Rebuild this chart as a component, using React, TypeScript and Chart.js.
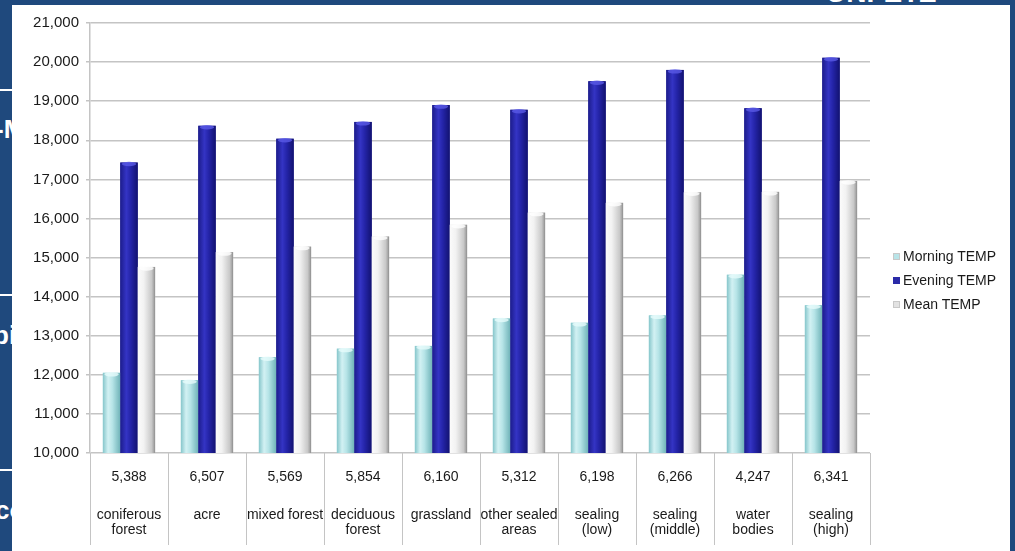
import React, { useEffect, useRef } from "react";
import { Chart, registerables } from "chart.js";

Chart.register(...registerables);

// ---------- data ----------
const categoryNames: string[][] = [
  ["coniferous", "forest"],
  ["acre"],
  ["mixed forest"],
  ["deciduous", "forest"],
  ["grassland"],
  ["other sealed", "areas"],
  ["sealing", "(low)"],
  ["sealing", "(middle)"],
  ["water", "bodies"],
  ["sealing", "(high)"],
];
const sampleCounts = [5388, 6507, 5569, 5854, 6160, 5312, 6198, 6266, 4247, 6341];
const morningTemp = [12050, 11860, 12450, 12670, 12740, 13440, 13330, 13520, 14560, 13780];
const eveningTemp = [17430, 18370, 18040, 18470, 18900, 18780, 19510, 19800, 18820, 20110];
const meanTemp = [14760, 15140, 15280, 15540, 15840, 16150, 16400, 16670, 16680, 16960];
const seriesNames = ["Morning TEMP", "Evening TEMP", "Mean TEMP"];
const yMin = 10000;
const yMax = 21000;
const yStep = 1000;

// ---------- styles ----------
const FONT = "'Liberation Sans', Arial, sans-serif";
const TEXT = "#1a1a1a";
const GRID = "#c4c4c4";
const baseColors = ["#9fd8dc", "#22229a", "#e6e6e6"];
const shadeStops: [number, string][][] = [
  [
    [0, "#86c6cb"],
    [0.3, "#d2f1f3"],
    [0.55, "#b6e4e7"],
    [1, "#6fb3b8"],
  ],
  [
    [0, "#1c1c8c"],
    [0.35, "#3434c4"],
    [0.6, "#2424a8"],
    [1, "#121270"],
  ],
  [
    [0, "#fbfbfb"],
    [0.35, "#f2f2f2"],
    [0.8, "#c8c8c8"],
    [0.92, "#a8a8a8"],
    [1, "#8c8c8c"],
  ],
];
const capColors = ["#e6fbfb", "#5a5ae6", "#ffffff"];
const legendSwatch = ["#b8e4e8", "#2a2aa8", "#e2e2e2"];

const barShade = {
  id: "barShade",
  afterDatasetsDraw(chart: any) {
    const ctx = chart.ctx as CanvasRenderingContext2D;
    const area = chart.chartArea;
    ctx.save();
    ctx.beginPath();
    ctx.rect(area.left, area.top - 10, area.right - area.left, area.bottom - area.top + 10);
    ctx.clip();
    chart.data.datasets.forEach((_ds: any, di: number) => {
      const meta = chart.getDatasetMeta(di);
      meta.data.forEach((el: any) => {
        const { x, y, base, width } = el.getProps(["x", "y", "base", "width"], true);
        const l = x - width / 2;
        const g = ctx.createLinearGradient(l, 0, l + width, 0);
        shadeStops[di].forEach(([o, c]) => g.addColorStop(o, c));
        ctx.fillStyle = g;
        ctx.fillRect(l, y, width, base - y);
        ctx.beginPath();
        ctx.ellipse(x, y + 1.5, width / 2 - 1.5, 2.2, 0, 0, Math.PI * 2);
        ctx.fillStyle = capColors[di];
        ctx.globalAlpha = 0.8;
        ctx.fill();
        ctx.globalAlpha = 1;
      });
    });
    ctx.restore();
  },
};

const dividers = {
  id: "dividers",
  afterDraw(chart: any) {
    const xs = chart.scales.x;
    const x2 = chart.scales.x2;
    const ctx = chart.ctx as CanvasRenderingContext2D;
    const n = xs.getLabels().length;
    ctx.save();
    ctx.strokeStyle = GRID;
    ctx.lineWidth = 1;
    for (let i = 0; i <= n; i++) {
      const px = Math.round(xs.getPixelForValue(i - 0.5)) + 0.5;
      ctx.beginPath();
      ctx.moveTo(px, chart.chartArea.bottom);
      ctx.lineTo(px, x2.bottom);
      ctx.stroke();
    }
    ctx.restore();
  },
};

function ChartCanvas() {
  const ref = useRef<HTMLCanvasElement | null>(null);
  useEffect(() => {
    if (!ref.current) return;
    const chart = new Chart(ref.current, {
      type: "bar",
      data: {
        labels: sampleCounts.map((v) => v.toLocaleString("en-US")),
        datasets: [morningTemp, eveningTemp, meanTemp].map((d, i) => ({
          label: seriesNames[i],
          data: d,
          backgroundColor: baseColors[i],
          borderWidth: 0,
          categoryPercentage: 0.67,
          barPercentage: 1.0,
        })),
      },
      options: {
        animation: false,
        responsive: true,
        maintainAspectRatio: false,
        layout: { padding: { top: 18, right: 140, bottom: 6, left: 0 } },
        plugins: {
          legend: { display: false },
          tooltip: { enabled: false },
        },
        scales: {
          y: {
            min: yMin,
            max: yMax,
            ticks: {
              stepSize: yStep,
              font: { family: FONT, size: 15 },
              color: TEXT,
              padding: 7,
              callback: (v: any) => Number(v).toLocaleString("en-US"),
            },
            grid: { color: GRID, lineWidth: 1.5, tickLength: 4 },
            border: { color: GRID, width: 1.5 },
            afterFit: (s: any) => {
              s.width = 78;
            },
          },
          x: {
            type: "category",
            position: "bottom",
            grid: { display: false },
            border: { display: false },
            ticks: {
              font: { family: FONT, size: 14 },
              color: TEXT,
              padding: 8,
              autoSkip: false,
              maxRotation: 0,
            },
            afterFit: (s: any) => {
              s.height = 40;
            },
          },
          x2: {
            type: "category",
            position: "bottom",
            offset: true,
            labels: categoryNames as any,
            grid: { display: false },
            border: { display: false },
            ticks: {
              font: { family: FONT, size: 14, lineHeight: 1.1 },
              color: TEXT,
              padding: 6,
              autoSkip: false,
              maxRotation: 0,
            },
            afterFit: (s: any) => {
              s.height = 52;
            },
          },
        } as any,
      },
      plugins: [barShade, dividers],
    });
    return () => chart.destroy();
  }, []);
  return <canvas ref={ref} />;
}

export default function App() {
  const frag: React.CSSProperties = {
    position: "absolute",
    color: "#ffffff",
    fontFamily: FONT,
    fontWeight: "bold",
    fontSize: 26,
    lineHeight: "30px",
    whiteSpace: "nowrap",
  };
  const line = (top: number): React.CSSProperties => ({
    position: "absolute",
    left: 0,
    top,
    width: 14,
    height: 2,
    background: "#ffffff",
  });
  return (
    <div
      style={{
        position: "fixed",
        left: 0,
        top: 0,
        width: 1015,
        height: 551,
        background: "#1f497d",
        overflow: "hidden",
      }}
    >
      <div style={{ ...frag, left: 826, top: -22, fontSize: 28 }}>UNI-ETZ</div>
      <div style={line(89)} />
      <div style={line(294)} />
      <div style={line(469)} />
      <div style={{ ...frag, left: -5, top: 114 }}>-M</div>
      <div style={{ ...frag, left: -7, top: 320 }}>bi</div>
      <div style={{ ...frag, left: -5, top: 495 }}>co</div>
      <div
        style={{
          position: "absolute",
          left: 12,
          top: 5,
          width: 998,
          height: 546,
          background: "#ffffff",
        }}
      >
        <div style={{ position: "absolute", left: 0, top: 0, width: 998, height: 546 }}>
          <ChartCanvas />
        </div>
        {seriesNames.map((name, i) => (
          <div
            key={name}
            style={{
              position: "absolute",
              left: 881,
              top: 242 + i * 24,
              height: 18,
              display: "flex",
              alignItems: "center",
              fontFamily: FONT,
              fontSize: 14,
              color: TEXT,
              whiteSpace: "nowrap",
            }}
          >
            <span
              style={{
                display: "inline-block",
                width: 7,
                height: 7,
                marginRight: 3,
                background: legendSwatch[i],
                border: i === 1 ? "none" : "1px solid #c8c8c8",
                boxSizing: "border-box",
              }}
            />
            {name}
          </div>
        ))}
      </div>
    </div>
  );
}
